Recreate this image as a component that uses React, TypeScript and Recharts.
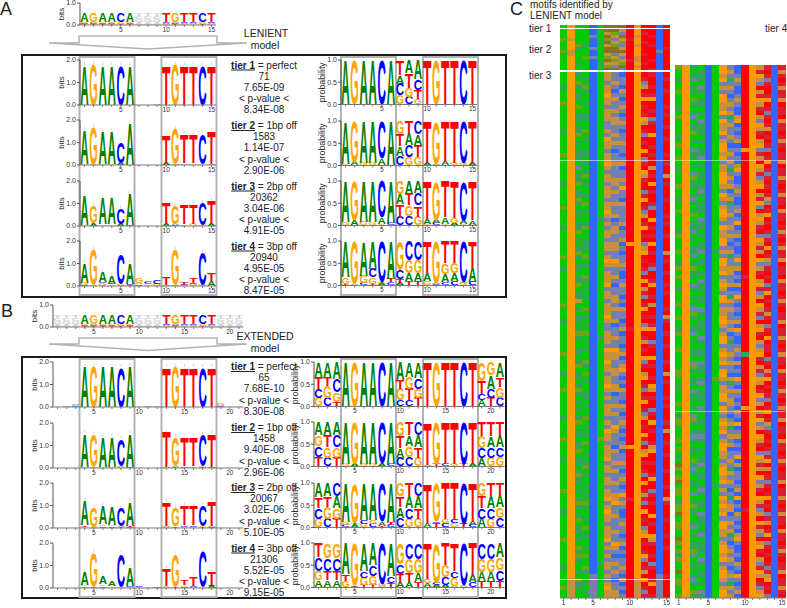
// App.tsx - motif logos (panels A, B) and motif heatmaps (panel C)
import {Bar, BarChart, XAxis, YAxis} from 'recharts'

const FONT = '"Liberation Sans", Arial, sans-serif'
const COL_W = 9.07

// ── logo data: one string per position, letters bottom to top, lowercase = grey ─────
const lenientTop = ['T.05 C.05 G.05 A.42', 'T.05 C.05 A.05 G.42', 'T.05 C.05 G.05 A.42', 'T.05 C.05 G.05 A.42', 'T.05 A.05 G.05 C.42', 'T.05 C.05 G.05 A.42', 'a.14 g.14 c.14 t.14', 'a.14 g.14 c.14 t.14', 'a.14 g.14 c.14 t.14', 'G.05 A.05 C.05 T.42', 'T.05 C.05 A.05 G.42', 'G.05 A.05 C.05 T.42', 'G.05 A.05 C.05 T.42', 'T.05 A.05 G.05 C.42', 'G.05 A.05 C.05 T.42']
const lenientBits1 = ['A1.78', 'G1.82', 'A1.78', 'A1.78', 'C1.76', 'A1.78', '', 'A.02', 'A.08', 'T1.78', 'G1.8', 'T1.78', 'T1.78', 'C1.76', 'T1.78']
const lenientBits2 = ['G.05 A1.55', 'A.04 G1.66', 'G.06 A1.46', 'G.06 A1.46', 'A.1 C.95', 'A1.86', '', '', '', 'A.1 T1.23', 'A.05 G1.58', 'A.08 T1.32', 'G.08 T1.28', 'G.06 C1.36', 'A.05 T1.5']
const lenientBits3 = ['G.06 A1.35', 'A.12 G.78', 'G.08 A1.15', 'G.08 A1.15', 'A.1 C.7', 'C.03 A1.4', '', '', '', 'A.12 T.92', 'C.05 A.05 G.83', 'G.08 T.9', 'G.1 T.85', 'G.05 C.97', 'A.1 T1.03']
const lenientBits4 = ['C.05 G.1 A.88', 'A.05 G1.59', 'G.12 C.04 A.47', 'G.08 T.03 A.37', 'A.04 G.03 C1.38', 'T.05 C.05 A.93', 'C.08 A.06 G.2', 'G.08 C.14', 'G.1 C.15', 'A.05 T.32', 'A.04 G1.6', 'A.03 C.03 T.12', 'G.1 C.03 T.2', 'A.03 G.03 C1.46', 'A.22 T.33']
const lenientProb1 = ['A1', 'G1', 'A1', 'A1', 'C1', 'A1', 'G.21 C.26 A.19 T.34', 'C.17 G.21 T.32 A.3', 'G.12 T.2 C.25 A.43', 'T1', 'G1', 'T1', 'T1', 'C1', 'T1']
const lenientProb2 = ['G.04 A.96', 'A.08 G.92', 'G.05 A.95', 'G.06 A.94', 'A.16 C.84', 'A1', 'C.22 A.22 T.26 G.3', 'G.19 C.26 A.26 T.29', 'G.19 T.26 A.25 C.3', 'A.05 T.95', 'A.04 G.96', 'A.08 T.92', 'G.05 T.95', 'G.05 C.95', 'A.06 T.94']
const lenientProb3 = ['G.07 A.93', 'A.12 G.88', 'G.08 A.92', 'G.07 A.93', 'G.03 A.15 C.82', 'C.06 A.94', 'C.2 T.28 A.23 G.29', 'C.22 G.23 T.26 A.29', 'G.2 T.25 C.27 A.28', 'G.03 A.12 T.85', 'C.05 A.08 G.87', 'G.03 A.15 T.82', 'A.05 G.12 T.83', 'G.03 A.08 C.89', 'G.02 A.1 T.88']
const lenientProb4 = ['T.04 G.16 A.8', 'A.03 G.97', 'C.05 G.17 A.78', 'T.03 G.15 C.2 A.62', 'A.05 G.03 C.92', 'C.07 T.08 A.85', 'A.06 T.08 C.2 G.66', 'T.1 A.17 G.3 C.43', 'T.1 A.18 G.3 C.42', 'G.1 A.18 T.72', 'C.03 A.03 G.94', 'C.07 A.18 G.25 T.5', 'C.1 A.17 G.23 T.5', 'G.05 A.03 C.92', 'C.08 A.32 T.6']

const extendedTop = ['a.14 g.14 c.14 t.14', 'a.14 g.14 c.14 t.14', 'a.14 g.14 c.14 t.14', ...lenientTop.slice(0, 6), 'a.14 g.14 c.14 t.14', 'a.14 g.14 c.14 t.14', 'a.14 g.14 c.14 t.14', ...lenientTop.slice(9), 'a.14 g.14 c.14 t.14', 'a.14 g.14 c.14 t.14', 'a.14 g.14 c.14 t.14']
const extendedBits1 = ['', 'A.03', 'C.04 G.04 A.06', 'A1.8', 'G1.82', 'A1.8', 'A1.8', 'C1.78', 'A1.8', '', 'A.03', 'A.03', 'T1.78', 'G1.8', 'T1.78', 'T1.78', 'C1.78', 'T1.78', 'C.04 G.1', 'A.02', 'A.02']
const extendedBits2 = ['', '', '', 'G.05 A1.5', 'A.05 G1.45', 'G.05 A1.33', 'G.05 A1.33', 'G.05 A.05 C1.2', 'C.05 A1.5', '', '', '', 'A.03 T1.57', 'T.06 A.04 G1.3', 'C.08 T1.32', 'G.08 T1.32', 'T.05 G.05 C1.4', 'C.05 T1.5', '', '', '']
const extendedBits3 = ['', '', '', 'G.06 T.06 A1.1', 'A.06 G.87', 'C.08 G.08 A.84', 'C.08 G.06 A.83', 'T.04 A.06 C.8', 'C.05 T.05 A1.08', '', '', '', 'G.05 A.05 T1.08', 'T.08 G.82', 'G.06 C.06 T.88', 'G.06 C.06 T.85', 'T.04 G.04 C.95', 'C.04 A.06 T1.12', '', '', '']
const extendedBits4 = ['', '', '', 'T.08 G.06 A.58', 'C.05 G1.55', 'C.08 G.08 A.36', 'G.08 A.2', 'G.05 C1.47', 'G.05 C.05 A.83', 'G.05 C.05', 'G.03', 'C.08', 'A.06 G.03 T.77', 'T.03 C.02 G1.45', 'C.06 G.06 T.23', 'A.03 C.08 T.41', 'G.03 C1.57', 'A.1 C.03 T.59', '', '', '']
const extendedProb1 = ['G.2 C.2 T.26 A.34', 'C.2 G.26 T.2 A.34', 'T.1 G.22 C.3 A.38', 'A1', 'G1', 'A1', 'A1', 'C1', 'A1', 'C.14 G.26 T.2 A.4', 'C.14 T.26 G.26 A.34', 'T.2 G.2 C.25 A.35', 'T1', 'G1', 'T1', 'T1', 'C1', 'T1', 'A.14 C.14 T.3 G.42', 'T.2 C.2 A.3 G.3', 'C.2 G.24 T.22 A.34']
const extendedProb2 = ['T.22 C.24 G.24 A.3', 'C.2 G.24 T.26 A.3', 'T.2 G.24 C.26 A.3', 'G.05 A.95', 'A.05 G.95', 'G.05 A.95', 'G.05 A.95', 'A.07 C.93', 'C.05 A.95', 'C.2 A.22 T.26 G.32', 'C.22 G.24 A.24 T.3', 'G.2 T.24 A.26 C.3', 'A.04 T.96', 'T.06 G.94', 'C.05 T.95', 'G.05 T.95', 'T.05 C.95', 'A.06 T.94', 'A.18 C.24 G.26 T.32', 'G.2 C.24 A.24 T.32', 'G.22 C.22 A.26 T.3']
const extendedProb3 = ['G.2 C.24 T.24 A.32', 'C.2 G.26 T.24 A.3', 'T.2 G.24 A.26 C.3', 'C.05 G.07 A.88', 'A.07 T.03 G.9', 'G.08 C.08 A.84', 'C.08 G.08 A.84', 'T.04 A.1 C.86', 'C.06 T.06 A.88', 'C.22 A.24 T.24 G.3', 'G.2 C.24 A.26 T.3', 'G.2 T.24 A.26 C.3', 'A.1 T.9', 'T.1 C.04 G.86', 'C.1 G.08 T.82', 'G.1 C.08 T.82', 'T.08 C.92', 'C.05 A.1 T.85', 'A.2 C.24 T.26 G.3', 'G.2 C.24 A.26 T.3', 'C.22 G.24 A.26 T.28']
const extendedProb4 = ['A.16 G.22 C.3 T.32', 'A.16 T.22 C.28 G.34', 'A.16 T.22 C.28 G.34', 'G.14 T.16 A.7', 'T.02 A.03 G.95', 'T.05 G.17 C.16 A.62', 'T.05 G.2 C.25 A.5', 'A.03 G.05 C.92', 'T.1 C.15 A.75', 'A.12 T.18 C.22 G.48', 'A.12 T.2 G.33 C.35', 'T.12 A.2 G.33 C.35', 'A.1 G.1 T.8', 'A.05 C.05 G.9', 'A.06 C.18 G.26 T.5', 'A.04 G.18 C.16 T.62', 'A.03 G.03 C.94', 'C.12 A.18 T.7', 'T.15 A.2 G.3 C.35', 'T.15 A.2 G.3 C.35', 'T.15 C.25 G.28 A.32']

// ── tier notes ─────
const lenientNotes = [
    ['tier 1', '= perfect', '71', '7.65E-09', '8.34E-08'],
    ['tier 2', '= 1bp off', '1583', '1.14E-07', '2.90E-06'],
    ['tier 3', '= 2bp off', '20362', '3.04E-06', '4.91E-05'],
    ['tier 4', '= 3bp off', '20940', '4.95E-05', '8.47E-05'],
]
const extendedNotes = [
    ['tier 1', '= perfect', '65', '7.68E-10', '8.30E-08'],
    ['tier 2', '= 1bp off', '1458', '9.40E-08', '2.96E-06'],
    ['tier 3', '= 2bp off', '20067', '3.02E-06', '5.10E-05'],
    ['tier 4', '= 3bp off', '21306', '5.52E-05', '9.15E-05'],
]

// ── heatmap columns, top row first; a digit after a letter repeats it ─────
const heatTier1 = ['g', 'o', 'g', 'g', 'b', 'g', 'n', 'n', 'n', 'r', 'o', 'r', 'r', 'b', 'r']
const heatTier2 = ['gggygggygggggg', 'oookoookkooooo', 'gggggytggggtgg', 'gggggtgggygggg', 'bbsbbbsbbsbbbb', 'ggggtggggggtgg', 'nknynknnkynkyn', 'nykskynnskyksn', 'ksnkysknkskyns', 'rrrmrrrrrrmrrr', 'ookookoookkoko', 'rmrrmrrrmrrmrr', 'rrmrrmrrrrmrrm', 'bbbbbbbsbbbbbb', 'rrrrrrmrrrrrrr']
const heatTier3 = [
    'gggtgggygg ggggtggggg yggggggtgg gggyggggtg gggggyggtg gggggggygg gtgggggggy ggggtgggyg gggggtgggg yggggtgggg gggyggggtg gggggygggg ggtggggygg',
    'o125 k5',
    'tgytgttgyg ttgttygtgt ttgsgttygt tytgttgtty gtgtytgttg ttygttkgtg ttgtytggtt gtygttgtyt gtgtgtygtt gttygttgty ttgtgtytgt ygttgtgyty tggtgyttgg',
    'gtgytggtgg ttggygtggt tgtgtygtgg tgygtggtyg gtttgygtgg ytgtgtggyg tgtgygtgtg gytgygtggt tgtggygtgt gyggtgtygt ggtgtgytgg tgygtggtgy ggytggtgtg',
    'b124 s6',
    'g36 t g28 t g24 y g30 t g8',
    'kkskkokksk kkssksokks kkokskkskk kskkoksksk kskkskoksk kkoskkskkk oksskkksok kokkskkoks kskkksksok kskkkoskks kkskkoskok kskkkosksk skkskskokk',
    'ssksbskssk skkssksksb sskssskksk ssksskbskk sskkssokss ksbsskksks skbsskssok ksskksskkb sskskssoks ssbkssksks sksskkossk ssskssoksb sksksbsskk',
    'bssbksbsks bsksbsskss bskbssksos sbksssskbs skbsbssksb bskssbsbks sbskbssbsk bskosbsbks sbksbsksbs bskbssksbs ksbsosksbb skssbskbsb ssksbkbsbs',
    'r42 o r20 m r28 o r12 m r24',
    'o125 k5',
    'rmskrmormr mokrmsrmro rsmrokmrrs mormskrmor mrskormrms rorkmsrmor mrsormkrmr osmrkormsr mormskrmro msrkormrms rormkmsror mrskormrmo srmkrormsm',
    'mrrmrmorrm rsmrrorrmr mrrkrmrorm rrmsrrormr mrormrrmsr rmorrmrkrr mrmorrsmrr ormrrmrokr mrrsmrormr rmkorrmrrm orrsmrmrro rmrrokmrrm rsmrrmorrm',
    'b124 s6',
    'rmrrmrrrmr mrrmrrmrrr mrmrrkrmrr rmrrrmrmrr mrrrkrmrrm rrmrmrrrmr kmrrmrrmrr rmrrkrmrrr mrmrrrmrkr rmrrmrrrmr rrmrrkmrrr mrrrmrrmrr rrrrmrrrrr',
]
const heatTier4 = [
    'yggtggyggg tgyggggtgy ggyggtgggy ggtggygggg tygggyggty gyggtgggyg gyggtygggy ggggyyggtg ggyggtyygg gygygtgnyg yngyygtyyn gyyggnygyt yggngyyggy',
    'o130',
    'tgtsgttgyt gtsgttygtg sttgtgsytt gtstgtygtt sgtgttsgty ttgstgtgts ytgttsgtgt tgsytgttgs ttgtgsytgt stgttgytst gttgsgtytt gtsgtgttys gttgtstgyt',
    'gtttgstgtt gtgstttgtg ttsgtgttgt stgtttgstt gtgttsgttg tgsttgttgs tgtttgstgt tgsttgtsgt ttgstgttgt stgtgttsgt tgtstgttgs ttgtsgtttg stgttgtgst',
    'b130',
    'g45 t g30 y g25 t g27',
    'ookosksook kosokkosko okoskkoook sokskookso kkoosksook oskoksoosk kookskoosk okosookskk oosokskoko skookkskoo kosksokoko sookkskook oskookskoo',
    'skstsksbsk sktskssksb skskstsksk bsktsskssk sksbsktssk ksskbstksk sskskbstss kskssbktsk skkssbskts kskbsskstk sksbstskkb sksktsbsks ksbskstksk',
    'bbsksbbsks bbkobsbskb sbsbkosbbs ksbbskbsob skbsbbsosk bsbkbsosbs bskbosbbsk sbkbsbosbk sbsbksbobs kbsbsobkbs sbskbobsbk sbsbkosbbs bksbosbskb',
    'r20 o r30 m r18 t r12 o r24 m r21',
    'o130',
    'kmoksrkmok mrksokmrko smkrokmsko rkmosrkokm rsokmkrosk mrkomskrok msrkomrksk omrkmsokrm oskrkmoskr okmrsokmkr oskmrokmsk romksrkomr ksmokrmsko',
    'mrmsmrrmor msmrmkrmrm srmormsmrm rmksrmormr msmrormksm rmrsmormrm kmrsmrormm rsmrkmormr msrmormksm rmrmsmorkr msmrmormrs mkrmorsmrm rmsmkormrs',
    'b130',
    'mkmrmkmmkr mmrkmmrmkm rmmkrmmkmr mkmmrkmmrm kmrmkmmkrm mrkmmrmkmr mmkrmmkmrm kmmrkmmrmk mrmkmmkrmm rkmmrmkmrm mkrmmkmrmk mmrkmmrmkm rmmkrmmkmr',
]

const HEAT_COLORS: Record<string, string> = {
    g: '#00cc00', o: '#ff9900', b: '#3366ff', r: '#ff0000', y: '#6fa510', k: '#c8903c',
    s: '#7480ae', m: '#d4203a', t: '#2fa45a', n: '#85731f',
}
const LETTER_COLORS: Record<string, string> = {A: '#008000', C: '#0000ff', G: '#ffa500', T: '#ff0000'}
const LETTER_WIDTH: Record<string, number> = {A: 72.2, C: 72.2, G: 77.8, T: 61.1}

function Letter({x, y, width, height, letter, whisker}: any) {
    if (!letter || !(height > 0)) return null
    const up = letter.toUpperCase()
    const grey = letter !== up
    const sx = width / LETTER_WIDTH[up]
    const sy = height / 71.6
    return (
        <g>
            {whisker && <line x1={x + width / 2} x2={x + width / 2} y1={y} y2={y - 3} stroke="#d0d0d0" strokeWidth={0.8}/>}
            <text transform={`translate(${x},${y + height}) scale(${sx},${sy})`} fontSize={100} fontWeight={700}
                  fontFamily={FONT} fill={grey ? '#cfcfcf' : LETTER_COLORS[up]}>{up}</text>
        </g>
    )
}

function parseLogo(cols: string[]) {
    return cols.map((col, i) => {
        const row: any = {pos: i + 1}
        const toks = col.split(' ').filter(Boolean)
        toks.forEach((tok, s) => {
            row[`l${s}`] = tok[0]
            row[`v${s}`] = parseFloat(tok.slice(1))
        })
        row.last = toks.length - 1
        for (let s = 0; s < 4; s++) if (row[`v${s}`] === undefined) row[`v${s}`] = 0
        return row
    })
}

const SLOTS = [0, 1, 2, 3]

function Logo({cols, axisX, topY, plotH, max, ticks, label, labelOffset}: {
    cols: string[]; axisX: number; topY: number; plotH: number; max: number; ticks: number[]; label: string; labelOffset: number;
}) {
    const axisW = 24
    const marginTop = 5
    const width = axisW + cols.length * COL_W + 2
    const whisker = label === 'bits' && max === 2
    return (
        <div style={{position: 'absolute', left: axisX - axisW, top: topY - marginTop}}>
            <BarChart width={width} height={marginTop + plotH + 13} data={parseLogo(cols)} barCategoryGap={0} barGap={0}
                      margin={{top: marginTop, right: 2, left: 0, bottom: 0}}>
                <XAxis dataKey="pos" interval={0} height={13} tickSize={2} tickMargin={0}
                       tickFormatter={(v) => (v % 5 === 0 ? String(v) : '')}
                       tick={{fontSize: 6.5, fill: '#333', fontFamily: FONT}} stroke="#777"/>
                <YAxis type="number" domain={[0, max]} ticks={ticks} width={axisW} tickSize={3} tickMargin={1}
                       tickFormatter={(v) => Number(v).toFixed(1)} interval={0}
                       tick={{fontSize: 7, fill: '#333', fontFamily: FONT}} stroke="#555"
                       label={{value: label, angle: -90, position: 'insideLeft', offset: labelOffset, textAnchor: 'middle',
                           style: {fontSize: label === 'bits' ? 8 : 8.8, fill: '#222', fontFamily: FONT}}}/>
                {SLOTS.map((s) => (
                    <Bar key={s} dataKey={`v${s}`} stackId="logo" isAnimationActive={false}
                         shape={(p: any) => <Letter x={p.x + 0.3} y={p.y} width={p.width - 0.6} height={p.height}
                                                    letter={p.payload[`l${s}`]}
                                                    whisker={whisker && p.payload.last === s && p.height > 8}/>}/>
                ))}
            </BarChart>
        </div>
    )
}

const expand = (s: string) => s.replace(/\s/g, '').replace(/([a-z])(\d+)/g, (_, c, n) => c.repeat(+n))

function Heat({cols, x, y, width, height, axis}: {
    cols: string[]; x: number; y: number; width: number; height: number; axis?: boolean;
}) {
    const expanded = cols.map(expand)
    const rows = Math.max(...expanded.map((c) => c.length))
    const data = expanded.map((c, i) => {
        const row: any = {pos: i + 1, colors: c}
        for (let r = 0; r < rows; r++) row[`r${r}`] = 1
        return row
    })
    const rowIds = Array.from({length: rows}, (_, r) => r)
    return (
        <div style={{position: 'absolute', left: x, top: y, filter: 'blur(0.45px)'}}>
            <BarChart width={width} height={height + (axis ? 12 : 0)} data={data} barCategoryGap={0} barGap={0}
                      margin={{top: 0, right: 0, left: 0, bottom: 0}}>
                <XAxis dataKey="pos" hide={!axis} interval={0} height={12} tickSize={2} tickMargin={0}
                       tickFormatter={(v) => (v === 1 || v % 5 === 0 ? String(v) : '')}
                       tick={{fontSize: 6.5, fill: '#333', fontFamily: FONT}} stroke="#777"/>
                <YAxis hide type="number" domain={[0, rows]}/>
                {rowIds.map((r) => (
                    <Bar key={r} dataKey={`r${r}`} stackId="heat" isAnimationActive={false}
                         shape={(p: any) => {
                             const colors: string = p.payload.colors
                             const code = colors[rows - 1 - r] ?? colors[colors.length - 1]
                             return <rect x={p.x} y={p.y} width={p.width + 0.6} height={p.height + 0.5} fill={HEAT_COLORS[code]} shapeRendering="crispEdges"/>
                         }}/>
                ))}
            </BarChart>
        </div>
    )
}

function Notes({notes, x, ys}: { notes: string[][]; x: number; ys: number[] }) {
    return (
        <>
            {notes.map((n, i) => (
                <g key={n[0]}>
                    <text x={x} y={ys[i]} textAnchor="middle" fontSize={10}>
                        <tspan fontWeight={700} textDecoration="underline">{n[0]}</tspan> {n[1]}
                    </text>
                    <text x={x} y={ys[i] + 11.2} textAnchor="middle" fontSize={10}>{n[2]}</text>
                    <text x={x} y={ys[i] + 22.4} textAnchor="middle" fontSize={10}>{n[3]}</text>
                    <text x={x} y={ys[i] + 33.6} textAnchor="middle" fontSize={10}>&lt; p-value &lt;</text>
                    <text x={x} y={ys[i] + 44.8} textAnchor="middle" fontSize={10}>{n[4]}</text>
                </g>
            ))}
        </>
    )
}

const BOX = {stroke: '#b3b3b3', strokeWidth: 2, fill: 'none'}
const FRAME = {stroke: '#1a1a1a', strokeWidth: 2, fill: 'none'}
const FUNNEL = {stroke: '#b3b3b3', strokeWidth: 1.5, fill: '#fff'}

export default function App() {
    const bits = {plotH: 45, max: 2, ticks: [0, 1, 2], label: 'bits', labelOffset: 5}
    const prob = {plotH: 44.5, max: 1, ticks: [0, 0.5, 1], label: 'probability', labelOffset: 5}
    const lenientBitRows: [string[], number][] = [[lenientBits1, 59.5], [lenientBits2, 120], [lenientBits3, 180.5], [lenientBits4, 241]]
    const lenientProbRows: [string[], number][] = [[lenientProb1, 60], [lenientProb2, 120.5], [lenientProb3, 181], [lenientProb4, 241]]
    const extendedBitRows: [string[], number][] = [[extendedBits1, 362], [extendedBits2, 422.5], [extendedBits3, 482.5], [extendedBits4, 543]]
    const extendedProbRows: [string[], number][] = [[extendedProb1, 361.5], [extendedProb2, 422], [extendedProb3, 482.5], [extendedProb4, 543]]
    return (
        <div style={{position: 'absolute', left: 0, top: 0, width: 787, height: 608, overflow: 'hidden', background: '#fff'}}>
            <svg width={787} height={608} style={{position: 'absolute', left: 0, top: 0}} fontFamily={FONT} fill="#222">
                <text x={0} y={15} fontSize={18}>A</text>
                <text x={1} y={317} fontSize={18}>B</text>
                <text x={510} y={15} fontSize={18}>C</text>

                <path d="M49,43 L79,43 L79,36 L217,36 L217,43 L247,43 L148,49 Z" {...FUNNEL}/>
                <path d="M49,344 L79,344 L79,338 L217,338 L217,344 L247,344 L148,350.5 Z" {...FUNNEL}/>
                <text x={266} y={37} textAnchor="middle" fontSize={10.5}>LENIENT</text>
                <text x={265} y={49} textAnchor="middle" fontSize={10.5}>model</text>
                <text x={265} y={340} textAnchor="middle" fontSize={10.5}>EXTENDED</text>
                <text x={265} y={352} textAnchor="middle" fontSize={10.5}>model</text>

                <rect x={22} y={55} width={484} height={242} {...FRAME}/>
                <rect x={22} y={357} width={484} height={241} {...FRAME}/>

                <rect x={79.5} y={57} width={55} height={238} {...BOX}/>
                <rect x={161.5} y={57} width={55} height={238} {...BOX}/>
                <rect x={341} y={57} width={55} height={238} {...BOX}/>
                <rect x={423} y={57} width={55} height={238} {...BOX}/>
                <rect x={79.5} y={359} width={55} height={238} {...BOX}/>
                <rect x={161.5} y={359} width={55} height={238} {...BOX}/>
                <rect x={341} y={359} width={55} height={238} {...BOX}/>
                <rect x={423} y={359} width={55} height={238} {...BOX}/>

                <Notes notes={lenientNotes} x={264} ys={[68.5, 129, 189.5, 249.5]}/>
                <Notes notes={extendedNotes} x={264} ys={[370, 431, 491, 551.5]}/>

                <text x={530} y={8} fontSize={10}>motifs identified by</text>
                <text x={530} y={19} fontSize={10}>LENIENT model</text>
                <text x={529} y={32} fontSize={10}>tier 1</text>
                <text x={529} y={53} fontSize={10}>tier 2</text>
                <text x={529} y={79} fontSize={10}>tier 3</text>
                <text x={765} y={32} fontSize={10}>tier 4</text>
            </svg>

            <Logo cols={lenientTop} axisX={79.9} topY={3} plotH={22} max={1} ticks={[0, 1]} label="bits" labelOffset={5}/>
            {lenientBitRows.map(([cols, y]) => <Logo key={y} cols={cols} axisX={80.1} topY={y} {...bits}/>)}
            {lenientProbRows.map(([cols, y]) => <Logo key={y} cols={cols} axisX={340.5} topY={y} {...prob}/>)}

            <Logo cols={extendedTop} axisX={52.8} topY={305} plotH={22} max={1} ticks={[0, 1]} label="bits" labelOffset={5}/>
            {extendedBitRows.map(([cols, y]) => <Logo key={y} cols={cols} axisX={52.8} topY={y} {...bits}/>)}
            {extendedProbRows.map(([cols, y]) => <Logo key={y} cols={cols} axisX={313.8} topY={y} {...prob}/>)}

            <Heat cols={heatTier1} x={560} y={25} width={110.3} height={3}/>
            <Heat cols={heatTier2} x={560} y={29} width={110.3} height={41}/>
            <Heat cols={heatTier3} x={560} y={72} width={110.3} height={526} axis/>
            <Heat cols={heatTier4} x={675} y={65} width={110.7} height={533} axis/>

            <svg width={787} height={608} style={{position: 'absolute', left: 0, top: 0, pointerEvents: 'none'}}>
                <line x1={560} x2={670} y1={160.5} y2={160.5} stroke="#fff" strokeOpacity={0.55}/>
                <line x1={560} x2={670} y1={579.5} y2={579.5} stroke="#fff" strokeOpacity={0.7}/>
                <line x1={675} x2={785.7} y1={160.5} y2={160.5} stroke="#fff" strokeOpacity={0.45}/>
                <line x1={675} x2={785.7} y1={411.5} y2={411.5} stroke="#fff" strokeOpacity={0.45}/>
            </svg>
        </div>
    )
}
